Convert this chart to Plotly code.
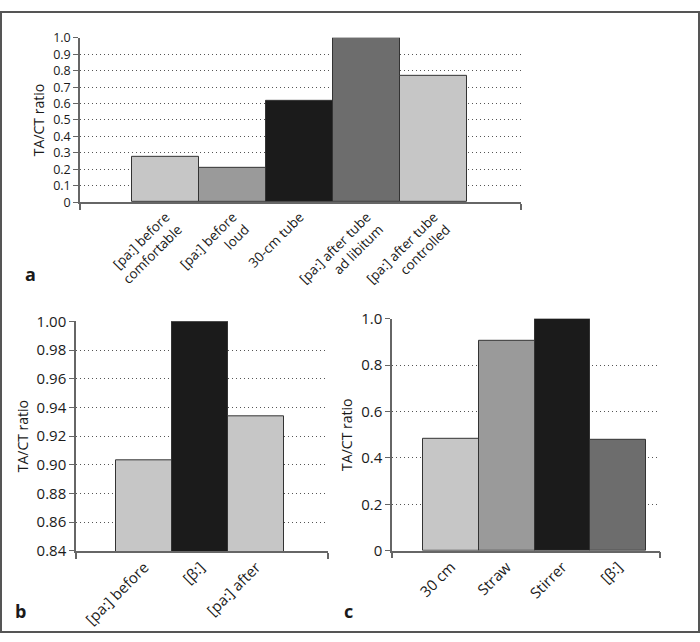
import plotly.graph_objects as go

W, H = 700, 642

# ---- data ----
a_labels = ["[pa:] before<br>comfortable", "[pa:] before<br>loud", "30-cm tube",
            "[pa:] after tube<br>ad libitum", "[pa:] after tube<br>controlled"]
a_values = [0.274, 0.208, 0.614, 1.0, 0.768]
a_colors = ["#c6c6c6", "#9a9a9a", "#1b1b1b", "#6d6d6d", "#c6c6c6"]
a_ticks = [0, 0.1, 0.2, 0.3, 0.4, 0.5, 0.6, 0.7, 0.8, 0.9, 1.0]
a_ticktext = ["0", "0.1", "0.2", "0.3", "0.4", "0.5", "0.6", "0.7", "0.8", "0.9", "1.0"]

b_labels = ["[pa:] before", "[β:]", "[pa:] after"]
b_values = [0.903, 1.0, 0.934]
b_colors = ["#c6c6c6", "#1b1b1b", "#c6c6c6"]
b_ticks = [0.84, 0.86, 0.88, 0.90, 0.92, 0.94, 0.96, 0.98, 1.00]
b_ticktext = ["0.84", "0.86", "0.88", "0.90", "0.92", "0.94", "0.96", "0.98", "1.00"]

c_labels = ["30 cm", "Straw", "Stirrer", "[β:]"]
c_values = [0.482, 0.904, 1.0, 0.478]
c_colors = ["#c6c6c6", "#9a9a9a", "#1b1b1b", "#6d6d6d"]
c_ticks = [0, 0.2, 0.4, 0.6, 0.8, 1.0]
c_ticktext = ["0", "0.2", "0.4", "0.6", "0.8", "1.0"]

FONT = "Open Sans"
TXT = "#1a1a1a"
AX = "#666666"

fig = go.Figure()

def add_panel(idx, labels, values, colors, xrange, yrange, ticks, ticktext, xdom, ydom,
              xfs, yfs, tfs):
    xs = list(range(len(labels)))
    sfx = "" if idx == 1 else str(idx)
    fig.add_trace(go.Bar(
        x=xs, y=values, width=1.0,
        marker=dict(color=colors, line=dict(color="#333333", width=1)),
        xaxis="x" + sfx, yaxis="y" + sfx, showlegend=False, hoverinfo="skip",
    ))
    fig.update_layout(**{
        "xaxis" + sfx: dict(
            domain=xdom, range=xrange, anchor="y" + sfx,
            tickmode="array", tickvals=xs, ticktext=labels, tickangle=-45,
            ticks="", showgrid=False, zeroline=False,
            showline=True, linecolor=AX, linewidth=1.5,
            tickfont=dict(family=FONT, size=xfs, color=TXT),
            minor=dict(tickmode="array", tickvals=xrange, ticks="outside",
                       ticklen=6, tickcolor=AX, tickwidth=1.5, showgrid=False),
            fixedrange=True,
        ),
        "yaxis" + sfx: dict(
            domain=ydom, range=yrange, anchor="x" + sfx,
            tickmode="array", tickvals=ticks, ticktext=ticktext,
            ticks="outside", ticklen=5, tickcolor=AX, tickwidth=1,
            showline=True, linecolor=AX, linewidth=1.5,
            showgrid=True, gridcolor="#555555", gridwidth=1, griddash="1px,3px",
            zeroline=False,
            tickfont=dict(family=FONT, size=yfs, color=TXT),
            title=dict(text="TA/CT ratio", font=dict(family=FONT, size=tfs, color=TXT), standoff=5),
            fixedrange=True,
        ),
    })

def px_x(x0, x1):
    return [x0 / W, x1 / W]

def px_y(ytop, ybot):
    return [1 - ybot / H, 1 - ytop / H]

add_panel(1, a_labels, a_values, a_colors, [-1.28, 5.3], [0, 1.0], a_ticks, a_ticktext,
          px_x(80, 521), px_y(27.7, 197.3), 13.5, 12.5, 14)
add_panel(2, b_labels, b_values, b_colors, [-1.22, 3.28], [0.84, 1.0], b_ticks, b_ticktext,
          px_x(76, 328), px_y(320.3, 557.3), 15, 15, 14)
add_panel(3, c_labels, c_values, c_colors, [-1.06, 3.75], [0, 1.0], c_ticks, c_ticktext,
          px_x(392, 660), px_y(317.7, 557), 15, 15, 14)

for letter, x, y in [("a", 30, 271), ("b", 20, 619), ("c", 348, 619)]:
    fig.add_annotation(text="<b>%s</b>" % letter, xref="paper", yref="paper",
                       x=x / W, y=1 - y / H, xanchor="center", yanchor="middle",
                       showarrow=False, font=dict(family=FONT, size=18, color=TXT))

fig.add_shape(type="rect", xref="paper", yref="paper",
              x0=1 / W, x1=1 - 1 / W, y0=1 / H, y1=1 - 1 / H,
              line=dict(color="#555555", width=2))

fig.update_layout(
    width=W, height=H, margin=dict(l=0, r=0, t=0, b=0),
    paper_bgcolor="white", plot_bgcolor="white", bargap=0,
    font=dict(family=FONT, color=TXT),
)

fig.write_html("out.html", config={"displayModeBar": False},
               post_script="document.body.style.margin='0';document.body.style.overflow='hidden';")
